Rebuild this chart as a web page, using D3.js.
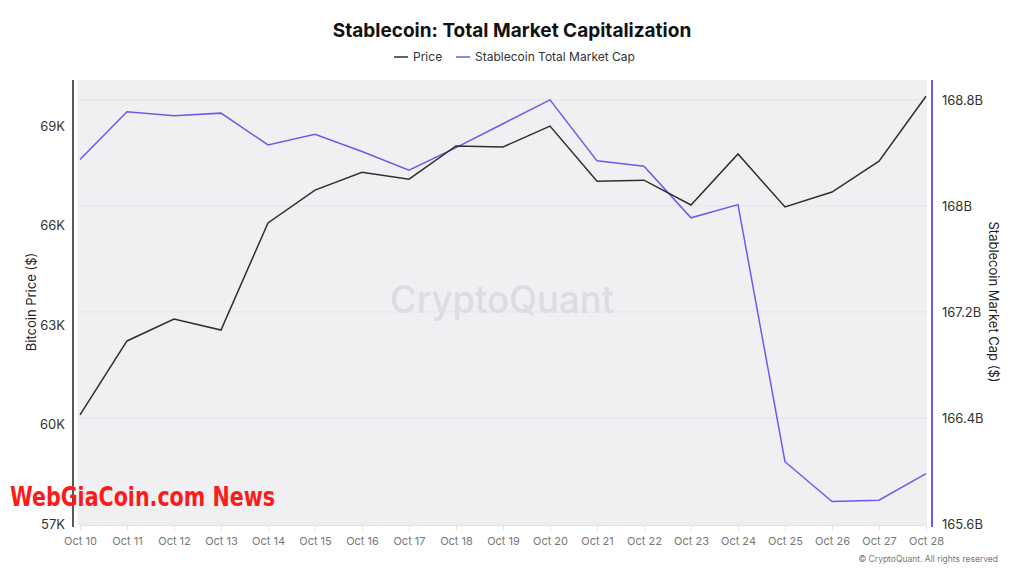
<!DOCTYPE html>
<html>
<head>
  <title>Stablecoin: Total Market Capitalization</title>
  <meta charset="utf-8">
  <script src="https://d3js.org/d3.v7.min.js"></script>
  <style>
    body { margin: 0; background: #fff; }
    svg text { font-family: Inter, "Noto Sans", sans-serif; }
  </style>
</head>
<body>
  <svg class="chart" width="1024" height="576"></svg>

  <script>
    "use strict";

    var dates = ["Oct 10", "Oct 11", "Oct 12", "Oct 13", "Oct 14", "Oct 15", "Oct 16",
                 "Oct 17", "Oct 18", "Oct 19", "Oct 20", "Oct 21", "Oct 22", "Oct 23",
                 "Oct 24", "Oct 25", "Oct 26", "Oct 27", "Oct 28"];

    // bitcoin price, USD
    var price = [60290, 62520, 63180, 62850, 66080, 67070, 67610, 67400, 68400, 68370,
                 69000, 67340, 67370, 66620, 68160, 66560, 67010, 67940, 69900];

    // stablecoin total market cap, billions USD
    var stableCap = [168.35, 168.71, 168.68, 168.70, 168.46, 168.54, 168.41, 168.27, 168.44, 168.62,
                     168.80, 168.34, 168.30, 167.91, 168.01, 166.07, 165.77, 165.78, 165.98];

    var priceTicks = [57000, 60000, 63000, 66000, 69000];
    var capTicks = [165.6, 166.4, 167.2, 168, 168.8];

    var margin = { top: 80, left: 79, bottom: 52, right: 98 };
    var svg = d3.select("svg.chart");
    var W = +svg.attr("width"), H = +svg.attr("height");
    var plotBottom = H - margin.bottom;   // 524
    var plotRight = W - margin.right;     // 926

    var x = d3.scalePoint()
              .domain(dates)
              .range([margin.left + 1, plotRight]);

    var yPrice = d3.scaleLinear()
                   .domain([57000, 70390])
                   .range([plotBottom, margin.top]);

    var yCap = d3.scaleLinear()
                 .domain([165.6, 168.95])
                 .range([plotBottom, margin.top]);

    var purple = "#6a5af0";
    var dark = "#2f2f2f";

    // plot background
    svg.append("rect")
       .attr("x", margin.left - 1)
       .attr("y", margin.top)
       .attr("width", plotRight - margin.left + 2)
       .attr("height", plotBottom - margin.top)
       .attr("fill", "#f0f0f3");

    // gridlines follow the right axis
    svg.append("g")
       .selectAll("line")
       .data(capTicks)
       .enter().append("line")
       .attr("x1", margin.left - 1)
       .attr("x2", plotRight + 1)
       .attr("y1", function(d) { return yCap(d); })
       .attr("y2", function(d) { return yCap(d); })
       .attr("stroke", "#e3e3e8")
       .attr("stroke-width", 1);

    // watermark
    svg.append("text")
       .attr("x", 502)
       .attr("y", 313)
       .attr("text-anchor", "middle")
       .attr("font-size", 38)
       .attr("font-weight", 500)
       .attr("fill", "#dcdce2")
       .attr("textLength", 224)
       .attr("lengthAdjust", "spacingAndGlyphs")
       .text("CryptoQuant");

    // x axis
    var xAxis = svg.append("g")
       .attr("transform", "translate(0," + (plotBottom + 1) + ")")
       .call(d3.axisBottom(x).tickSize(6).tickPadding(6));
    xAxis.select(".domain").attr("stroke", "#e2e2e6");
    xAxis.selectAll(".tick line").attr("stroke", "#e2e2e6");
    xAxis.selectAll("text")
         .attr("fill", "#777")
         .attr("font-size", 11)
         .style("font-family", "Inter, sans-serif");

    // left axis
    var yAxisL = svg.append("g")
       .attr("transform", "translate(73,0)")
       .call(d3.axisLeft(yPrice).tickValues(priceTicks).tickSize(0).tickPadding(8)
               .tickFormat(function(d) { return (d / 1000) + "K"; }));
    yAxisL.select(".domain").attr("stroke", "#222").attr("stroke-width", 1.5)
          .attr("d", "M0," + margin.top + "V" + (plotBottom + 3));
    yAxisL.selectAll("text")
          .attr("fill", "#333")
          .attr("font-size", 13)
          .style("font-family", "Inter, sans-serif");

    // right axis
    var yAxisR = svg.append("g")
       .attr("transform", "translate(932,0)")
       .call(d3.axisRight(yCap).tickValues(capTicks).tickSize(0).tickPadding(10)
               .tickFormat(function(d) { return (+d.toFixed(1)) + "B"; }));
    yAxisR.select(".domain").attr("stroke", purple).attr("stroke-width", 2)
          .attr("d", "M0," + margin.top + "V" + (plotBottom + 3));
    yAxisR.selectAll("text")
          .attr("fill", "#333")
          .attr("font-size", 13)
          .style("font-family", "Inter, sans-serif");

    // axis titles
    svg.append("text")
       .attr("transform", "translate(36,302) rotate(-90)")
       .attr("text-anchor", "middle")
       .attr("font-size", 13)
       .attr("fill", "#222")
       .text("Bitcoin Price ($)");

    svg.append("text")
       .attr("transform", "translate(989,302) rotate(90)")
       .attr("text-anchor", "middle")
       .attr("font-size", 13)
       .attr("fill", "#222")
       .text("Stablecoin Market Cap ($)");

    // lines
    var priceLine = d3.line()
      .x(function(d, i) { return x(dates[i]); })
      .y(function(d) { return yPrice(d); });

    var capLine = d3.line()
      .x(function(d, i) { return x(dates[i]); })
      .y(function(d) { return yCap(d); });

    svg.append("path")
       .datum(stableCap)
       .attr("d", capLine)
       .attr("fill", "none")
       .attr("stroke", purple)
       .attr("stroke-width", 1.5);

    svg.append("path")
       .datum(price)
       .attr("d", priceLine)
       .attr("fill", "none")
       .attr("stroke", dark)
       .attr("stroke-width", 1.5);

    // title
    svg.append("text")
       .attr("x", 512)
       .attr("y", 37)
       .attr("text-anchor", "middle")
       .attr("font-size", 19)
       .attr("font-weight", 700)
       .attr("fill", "#111")
       .text("Stablecoin: Total Market Capitalization");

    // legend
    var legend = [
      { label: "Price", color: dark, x: 394 },
      { label: "Stablecoin Total Market Cap", color: purple, x: 456 }
    ];
    var lg = svg.append("g").selectAll("g")
      .data(legend).enter().append("g")
      .attr("transform", function(d) { return "translate(" + d.x + ",57)"; });
    lg.append("line")
      .attr("x1", 0).attr("x2", 14)
      .attr("stroke", function(d) { return d.color; })
      .attr("stroke-width", 1.5);
    lg.append("text")
      .attr("x", 19)
      .attr("dy", "0.35em")
      .attr("font-size", 12)
      .attr("fill", "#333")
      .text(function(d) { return d.label; });

    // overlay stamp
    svg.append("text")
       .attr("x", 10)
       .attr("y", 506)
       .attr("font-size", 27)
       .attr("font-weight", 700)
       .attr("fill", "#ff1a1a")
       .attr("textLength", 265)
       .attr("lengthAdjust", "spacingAndGlyphs")
       .style("font-family", "'Liberation Sans Narrow', 'DejaVu Sans Condensed', sans-serif")
       .text("WebGiaCoin.com News");

    // copyright
    svg.append("text")
       .attr("x", 998)
       .attr("y", 562)
       .attr("text-anchor", "end")
       .attr("font-size", 8.5)
       .attr("fill", "#777")
       .text("© CryptoQuant. All rights reserved");
  </script>
</body>
</html>
